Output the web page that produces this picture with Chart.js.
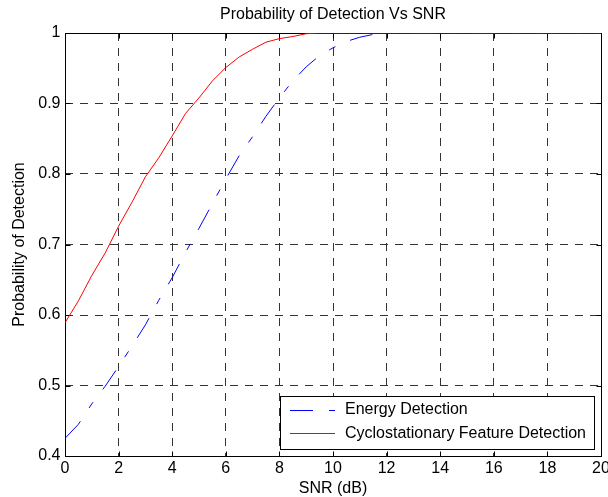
<!DOCTYPE html>
<html>
<head>
<meta charset="utf-8">
<script src="https://cdn.jsdelivr.net/npm/chart.js@4/dist/chart.umd.min.js"></script>
<style>
html,body{margin:0;padding:0;background:#fff;}
#c{display:block;}
</style>
</head>
<body>
<canvas id="c" width="608" height="497"></canvas>
<script>
// ---- data ----
const snrDb = [0,0.5,1,1.5,2,2.5,3,3.5,4,4.5,5,5.5,6,6.5,7,7.5,8,8.5,9,9.5,
               10,10.5,11,11.5,12,12.5,13,13.5,14,14.5,15,15.5,16,16.5,17,17.5,18,18.5,19,19.5,20];
const energyPd = [0.425,0.445,0.474,0.499,0.527,0.556,0.586,0.621,0.653,0.689,
                  0.723,0.758,0.793,0.826,0.853,0.882,0.908,0.932,0.952,0.968,
                  0.979,0.988,0.994,0.998,1,1,1,1,1,1,1,1,1,1,1,1,1,1,1,1,1];
const cycloPd = [0.589,0.620,0.656,0.688,0.726,0.760,0.796,0.823,0.854,0.886,
                 0.908,0.932,0.951,0.966,0.977,0.987,0.992,0.995,0.999,1,
                 1,1,1,1,1,1,1,1,1,1,1,1,1,1,1,1,1,1,1,1,1];
const seriesNames = ['Energy Detection','Cyclostationary Feature Detection'];
const xTickValues = [0,2,4,6,8,10,12,14,16,18,20];
const xTickLabels = ['0','2','4','6','8','10','12','14','16','18','20'];
const yTickValues = [0.4,0.5,0.6,0.7,0.8,0.9,1];
const yTickLabels = ['0.4','0.5','0.6','0.7','0.8','0.9','1'];
const chartTitle = 'Probability of Detection Vs SNR';
const xTitle = 'SNR (dB)';
const yTitle = 'Probability of Detection';

const FONT = "'Liberation Sans', Arial, Helvetica, sans-serif";
const toPoints = (ys) => snrDb.map((x, i) => ({x: x, y: ys[i]}));

// frame + inward tick marks (MATLAB style)
const framePlugin = {
  id: 'frame',
  beforeDatasetsDraw(chart) {
    const {ctx, chartArea: a, scales} = chart;
    const xs = scales.x, ys = scales.y;
    ctx.save();
    ctx.strokeStyle = '#000';
    ctx.lineWidth = 1;
    ctx.setLineDash([]);
    ctx.beginPath();
    const L = Math.round(a.left) + 0.5, R = Math.round(a.right) + 0.5;
    const T = Math.round(a.top) + 0.5, B = Math.round(a.bottom) + 0.5;
    xs.ticks.forEach(t => {
      const px = Math.round(xs.getPixelForValue(t.value)) + 0.5;
      ctx.moveTo(px, B); ctx.lineTo(px, B - 5);
      ctx.moveTo(px, T); ctx.lineTo(px, T + 5);
    });
    ys.ticks.forEach(t => {
      const py = Math.round(ys.getPixelForValue(t.value)) + 0.5;
      ctx.moveTo(L, py); ctx.lineTo(L + 5, py);
      ctx.moveTo(R, py); ctx.lineTo(R - 5, py);
    });
    ctx.stroke();
    ctx.strokeRect(L, T, R - L, B - T);
    ctx.restore();
  }
};

// legend box at the lower right inside the axes
const legendPlugin = {
  id: 'matlabLegend',
  afterDraw(chart) {
    const {ctx, chartArea: a} = chart;
    const ds = chart.data.datasets;
    ctx.save();
    ctx.font = '16px ' + FONT;
    const maxW = Math.max(...ds.map(d => ctx.measureText(d.label).width));
    const w = Math.round(65 + maxW + 8), h = 53;
    const right = Math.round(a.right) - 7, bottom = Math.round(a.bottom) - 7;
    const left = right - w, top = bottom - h;
    ctx.fillStyle = '#fff';
    ctx.fillRect(left, top, w, h);
    ctx.strokeStyle = '#000';
    ctx.lineWidth = 1;
    ctx.strokeRect(left + 0.5, top + 0.5, w, h);
    ds.forEach((d, i) => {
      const y = top + 14 + i * 23.3;
      ctx.beginPath();
      ctx.setLineDash(d.borderDash || []);
      ctx.strokeStyle = d.borderColor;
      ctx.lineWidth = d.borderWidth;
      ctx.moveTo(left + 10, Math.round(y) + 0.5);
      ctx.lineTo(left + 55, Math.round(y) + 0.5);
      ctx.stroke();
      ctx.setLineDash([]);
      ctx.fillStyle = '#000';
      ctx.textAlign = 'left';
      ctx.textBaseline = 'middle';
      ctx.fillText(d.label, left + 65, y);
    });
    ctx.restore();
  }
};

const gridColor = '#333';
const gridDash = [8, 7];

new Chart(document.getElementById('c'), {
  type: 'line',
  data: {
    datasets: [
      {
        label: seriesNames[0],
        data: toPoints(energyPd),
        borderColor: '#0000ff',
        borderWidth: 1,
        borderDash: [23, 16, 7, 16],
        pointRadius: 0,
        tension: 0,
        fill: false,
        order: 1
      },
      {
        label: seriesNames[1],
        data: toPoints(cycloPd),
        borderColor: '#ff0000',
        borderWidth: 1,
        pointRadius: 0,
        tension: 0,
        fill: false,
        order: 0
      }
    ]
  },
  options: {
    responsive: false,
    animation: false,
    devicePixelRatio: 1,
    layout: {padding: {top: 0, right: 7, bottom: 0, left: 0}},
    plugins: {
      legend: {display: false},
      tooltip: {enabled: false},
      title: {
        display: true,
        text: chartTitle,
        fullSize: false,
        color: '#000',
        font: {family: FONT, size: 16, weight: 'normal', lineHeight: 1},
        padding: {top: 6.5, bottom: 10.5}
      }
    },
    scales: {
      x: {
        type: 'linear',
        min: 0,
        max: 20,
        afterBuildTicks: (s) => { s.ticks = xTickValues.map(v => ({value: v})); },
        afterFit: (s) => { s.height = 41; s.paddingLeft = 0; s.paddingRight = 0; },
        ticks: {
          autoSkip: false,
          maxRotation: 0,
          padding: 2.5,
          color: '#000',
          font: {family: FONT, size: 16},
          callback: (v) => xTickLabels[xTickValues.indexOf(v)]
        },
        grid: {color: gridColor, lineWidth: 1, drawTicks: false, borderDash: gridDash},
        border: {display: false, dash: gridDash},
        title: {
          display: true,
          text: xTitle,
          color: '#000',
          font: {family: FONT, size: 16, lineHeight: 1},
          padding: {top: 0, bottom: 0}
        }
      },
      y: {
        type: 'linear',
        min: 0.4,
        max: 1,
        afterBuildTicks: (s) => { s.ticks = yTickValues.map(v => ({value: v})); },
        afterFit: (s) => { s.width = 65; s.paddingTop = 0; s.paddingBottom = 0; },
        ticks: {
          autoSkip: false,
          padding: 4.5,
          color: '#000',
          font: {family: FONT, size: 16},
          callback: (v) => {
            const i = yTickValues.findIndex(t => Math.abs(t - v) < 1e-9);
            return i >= 0 ? yTickLabels[i] : '';
          }
        },
        grid: {color: gridColor, lineWidth: 1, drawTicks: false, borderDash: gridDash},
        border: {display: false, dash: gridDash},
        title: {
          display: true,
          text: yTitle,
          color: '#000',
          font: {family: FONT, size: 16, lineHeight: 1},
          padding: {top: 11.5, bottom: 0}
        }
      }
    }
  },
  plugins: [framePlugin, legendPlugin]
});
</script>
</body>
</html>
